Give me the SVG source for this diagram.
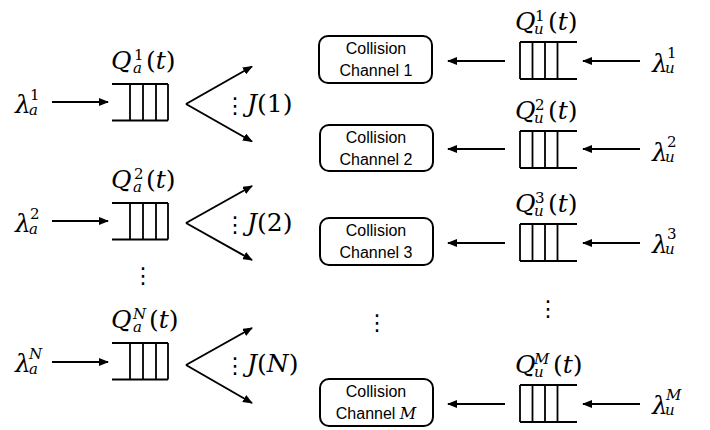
<svg xmlns="http://www.w3.org/2000/svg" width="710" height="430" viewBox="0 0 710 430">
<defs>
<style>
.m{font-family:"DejaVu Serif","Liberation Serif",serif;font-size:25px;fill:#000}
.i{font-style:italic}
.s{font-size:15px}
.d{font-family:"DejaVu Sans",sans-serif;font-size:22px;fill:#000;text-anchor:middle}
.c{font-family:"Liberation Sans",Arial,sans-serif;font-size:16px;fill:#000;text-anchor:middle}
.q{fill:none;stroke:#000;stroke-width:1.8}
.a{fill:none;stroke:#000;stroke-width:2;marker-end:url(#ah)}
.b{fill:#fff;stroke:#000;stroke-width:2}
</style>
<marker id="ah" viewBox="0 0 10 8" refX="9" refY="4" markerWidth="10" markerHeight="8" markerUnits="userSpaceOnUse" orient="auto">
<path d="M0,0 L10,4 L0,8 Z" fill="#000"/>
</marker>
<g id="lq"><path class="q" d="M112,0 H168 M112,36.5 H168 M130,0 V36.5 M143,0 V36.5 M156,0 V36.5 M168,0 V36.5"/></g>
<g id="rq"><path class="q" d="M520,0 H577 M520,37 H577 M520,0 V37 M532.5,0 V37 M545,0 V37 M557.5,0 V37"/></g>
</defs>
<rect width="710" height="430" fill="#fff"/>

<!-- Left row 1 -->
<g id="arrival-a1">
<text class="m"><tspan class="i" x="15" y="113">λ</tspan><tspan class="s" x="30" y="100">1</tspan><tspan class="s i" x="29" y="115">a</tspan></text>
</g>
<g id="queue-a1">
<use href="#lq" y="84"/>
<text class="m"><tspan class="i" x="111" y="69">Q</tspan><tspan class="s" x="134" y="60">1</tspan><tspan class="s i" x="133" y="73">a</tspan><tspan x="146" y="69">(</tspan><tspan class="i">t</tspan><tspan>)</tspan></text>
</g>
<g id="j1">
<text class="d" x="235" y="113">⋮</text>
<text class="m"><tspan class="i" x="247" y="112">J</tspan><tspan>(1)</tspan></text>
</g>

<!-- Left row 2 -->
<g id="arrival-a2">
<text class="m"><tspan class="i" x="15" y="232">λ</tspan><tspan class="s" x="30" y="219">2</tspan><tspan class="s i" x="29" y="234">a</tspan></text>
</g>
<g id="queue-a2">
<use href="#lq" y="203"/>
<text class="m"><tspan class="i" x="111" y="188">Q</tspan><tspan class="s" x="134" y="179">2</tspan><tspan class="s i" x="133" y="192">a</tspan><tspan x="146" y="188">(</tspan><tspan class="i">t</tspan><tspan>)</tspan></text>
</g>
<g id="j2">
<text class="d" x="235" y="232">⋮</text>
<text class="m"><tspan class="i" x="247" y="231">J</tspan><tspan>(2)</tspan></text>
</g>
<text class="d" x="143" y="283">⋮</text>

<!-- Left row N -->
<g id="arrival-aN">
<text class="m"><tspan class="i" x="15" y="372">λ</tspan><tspan class="s i" x="29" y="359">N</tspan><tspan class="s i" x="29" y="374">a</tspan></text>
</g>
<g id="queue-aN">
<use href="#lq" y="343"/>
<text class="m"><tspan class="i" x="111" y="328">Q</tspan><tspan class="s i" x="133" y="319">N</tspan><tspan class="s i" x="133" y="332">a</tspan><tspan x="149" y="328">(</tspan><tspan class="i">t</tspan><tspan>)</tspan></text>
</g>
<g id="jN">
<text class="d" x="235" y="373">⋮</text>
<text class="m"><tspan class="i" x="247" y="372">J</tspan><tspan>(</tspan><tspan class="i">N</tspan><tspan>)</tspan></text>
</g>

<!-- Channels -->
<g id="ch1"><rect class="b" x="319" y="36" width="113" height="47" rx="9"/><text class="c" x="376" y="54">Collision</text><text class="c" x="376" y="76">Channel 1</text></g>
<g id="ch2"><rect class="b" x="320" y="125" width="113" height="46" rx="9"/><text class="c" x="376" y="143">Collision</text><text class="c" x="376" y="165">Channel 2</text></g>
<g id="ch3"><rect class="b" x="320" y="218" width="113" height="47" rx="9"/><text class="c" x="376" y="236">Collision</text><text class="c" x="376" y="258">Channel 3</text></g>
<text class="d" x="377" y="330">⋮</text>
<g id="chM"><rect class="b" x="320" y="379" width="113" height="47" rx="9"/><text class="c" x="376" y="397">Collision</text><text class="c" x="376" y="419">Channel <tspan font-family="DejaVu Serif,serif" font-style="italic">M</tspan></text></g>

<!-- Right rows -->
<g id="queue-u1">
<use href="#rq" y="42"/>
<text class="m"><tspan class="i" x="515" y="30">Q</tspan><tspan class="s" x="535" y="21">1</tspan><tspan class="s i" x="534" y="34">u</tspan><tspan x="548" y="30">(</tspan><tspan class="i">t</tspan><tspan>)</tspan></text>
</g>
<g id="arrival-u1"><text class="m"><tspan class="i" x="652" y="72">λ</tspan><tspan class="s" x="667" y="58">1</tspan><tspan class="s i" x="665" y="73">u</tspan></text></g>

<g id="queue-u2">
<use href="#rq" y="131"/>
<text class="m"><tspan class="i" x="515" y="119">Q</tspan><tspan class="s" x="535" y="110">2</tspan><tspan class="s i" x="534" y="123">u</tspan><tspan x="548" y="119">(</tspan><tspan class="i">t</tspan><tspan>)</tspan></text>
</g>
<g id="arrival-u2"><text class="m"><tspan class="i" x="652" y="161">λ</tspan><tspan class="s" x="667" y="147">2</tspan><tspan class="s i" x="665" y="162">u</tspan></text></g>

<g id="queue-u3">
<use href="#rq" y="224"/>
<text class="m"><tspan class="i" x="515" y="212">Q</tspan><tspan class="s" x="535" y="203">3</tspan><tspan class="s i" x="534" y="216">u</tspan><tspan x="548" y="212">(</tspan><tspan class="i">t</tspan><tspan>)</tspan></text>
</g>
<g id="arrival-u3"><text class="m"><tspan class="i" x="652" y="253">λ</tspan><tspan class="s" x="667" y="239">3</tspan><tspan class="s i" x="665" y="254">u</tspan></text></g>

<text class="d" x="548" y="316">⋮</text>

<g id="queue-uM">
<use href="#rq" y="385"/>
<text class="m"><tspan class="i" x="515" y="373">Q</tspan><tspan class="s i" x="534" y="364">M</tspan><tspan class="s i" x="534" y="377">u</tspan><tspan x="553" y="373">(</tspan><tspan class="i">t</tspan><tspan>)</tspan></text>
</g>
<g id="arrival-uM"><text class="m"><tspan class="i" x="652" y="414">λ</tspan><tspan class="s i" x="666" y="400">M</tspan><tspan class="s i" x="665" y="415">u</tspan></text></g>

<!-- Connectors -->
<g id="connectors">
<line class="a" x1="52" y1="102" x2="108" y2="102"/>
<line class="a" x1="186" y1="104" x2="252" y2="66.5"/>
<line class="a" x1="186" y1="104" x2="252" y2="141.5"/>

<line class="a" x1="52" y1="221" x2="108" y2="221"/>
<line class="a" x1="186" y1="223" x2="252" y2="186"/>
<line class="a" x1="186" y1="223" x2="252" y2="260"/>

<line class="a" x1="52" y1="362" x2="108" y2="362"/>
<line class="a" x1="186" y1="365" x2="252" y2="328"/>
<line class="a" x1="186" y1="365" x2="252" y2="403"/>

<line class="a" x1="640" y1="61" x2="583" y2="61"/>
<line class="a" x1="505" y1="61" x2="448" y2="61"/>
<line class="a" x1="640" y1="149" x2="583" y2="149"/>
<line class="a" x1="505" y1="149" x2="448" y2="149"/>
<line class="a" x1="640" y1="243" x2="583" y2="243"/>
<line class="a" x1="505" y1="243" x2="448" y2="243"/>
<line class="a" x1="640" y1="404" x2="583" y2="404"/>
<line class="a" x1="505" y1="404" x2="448" y2="404"/>
</g>
</svg>
